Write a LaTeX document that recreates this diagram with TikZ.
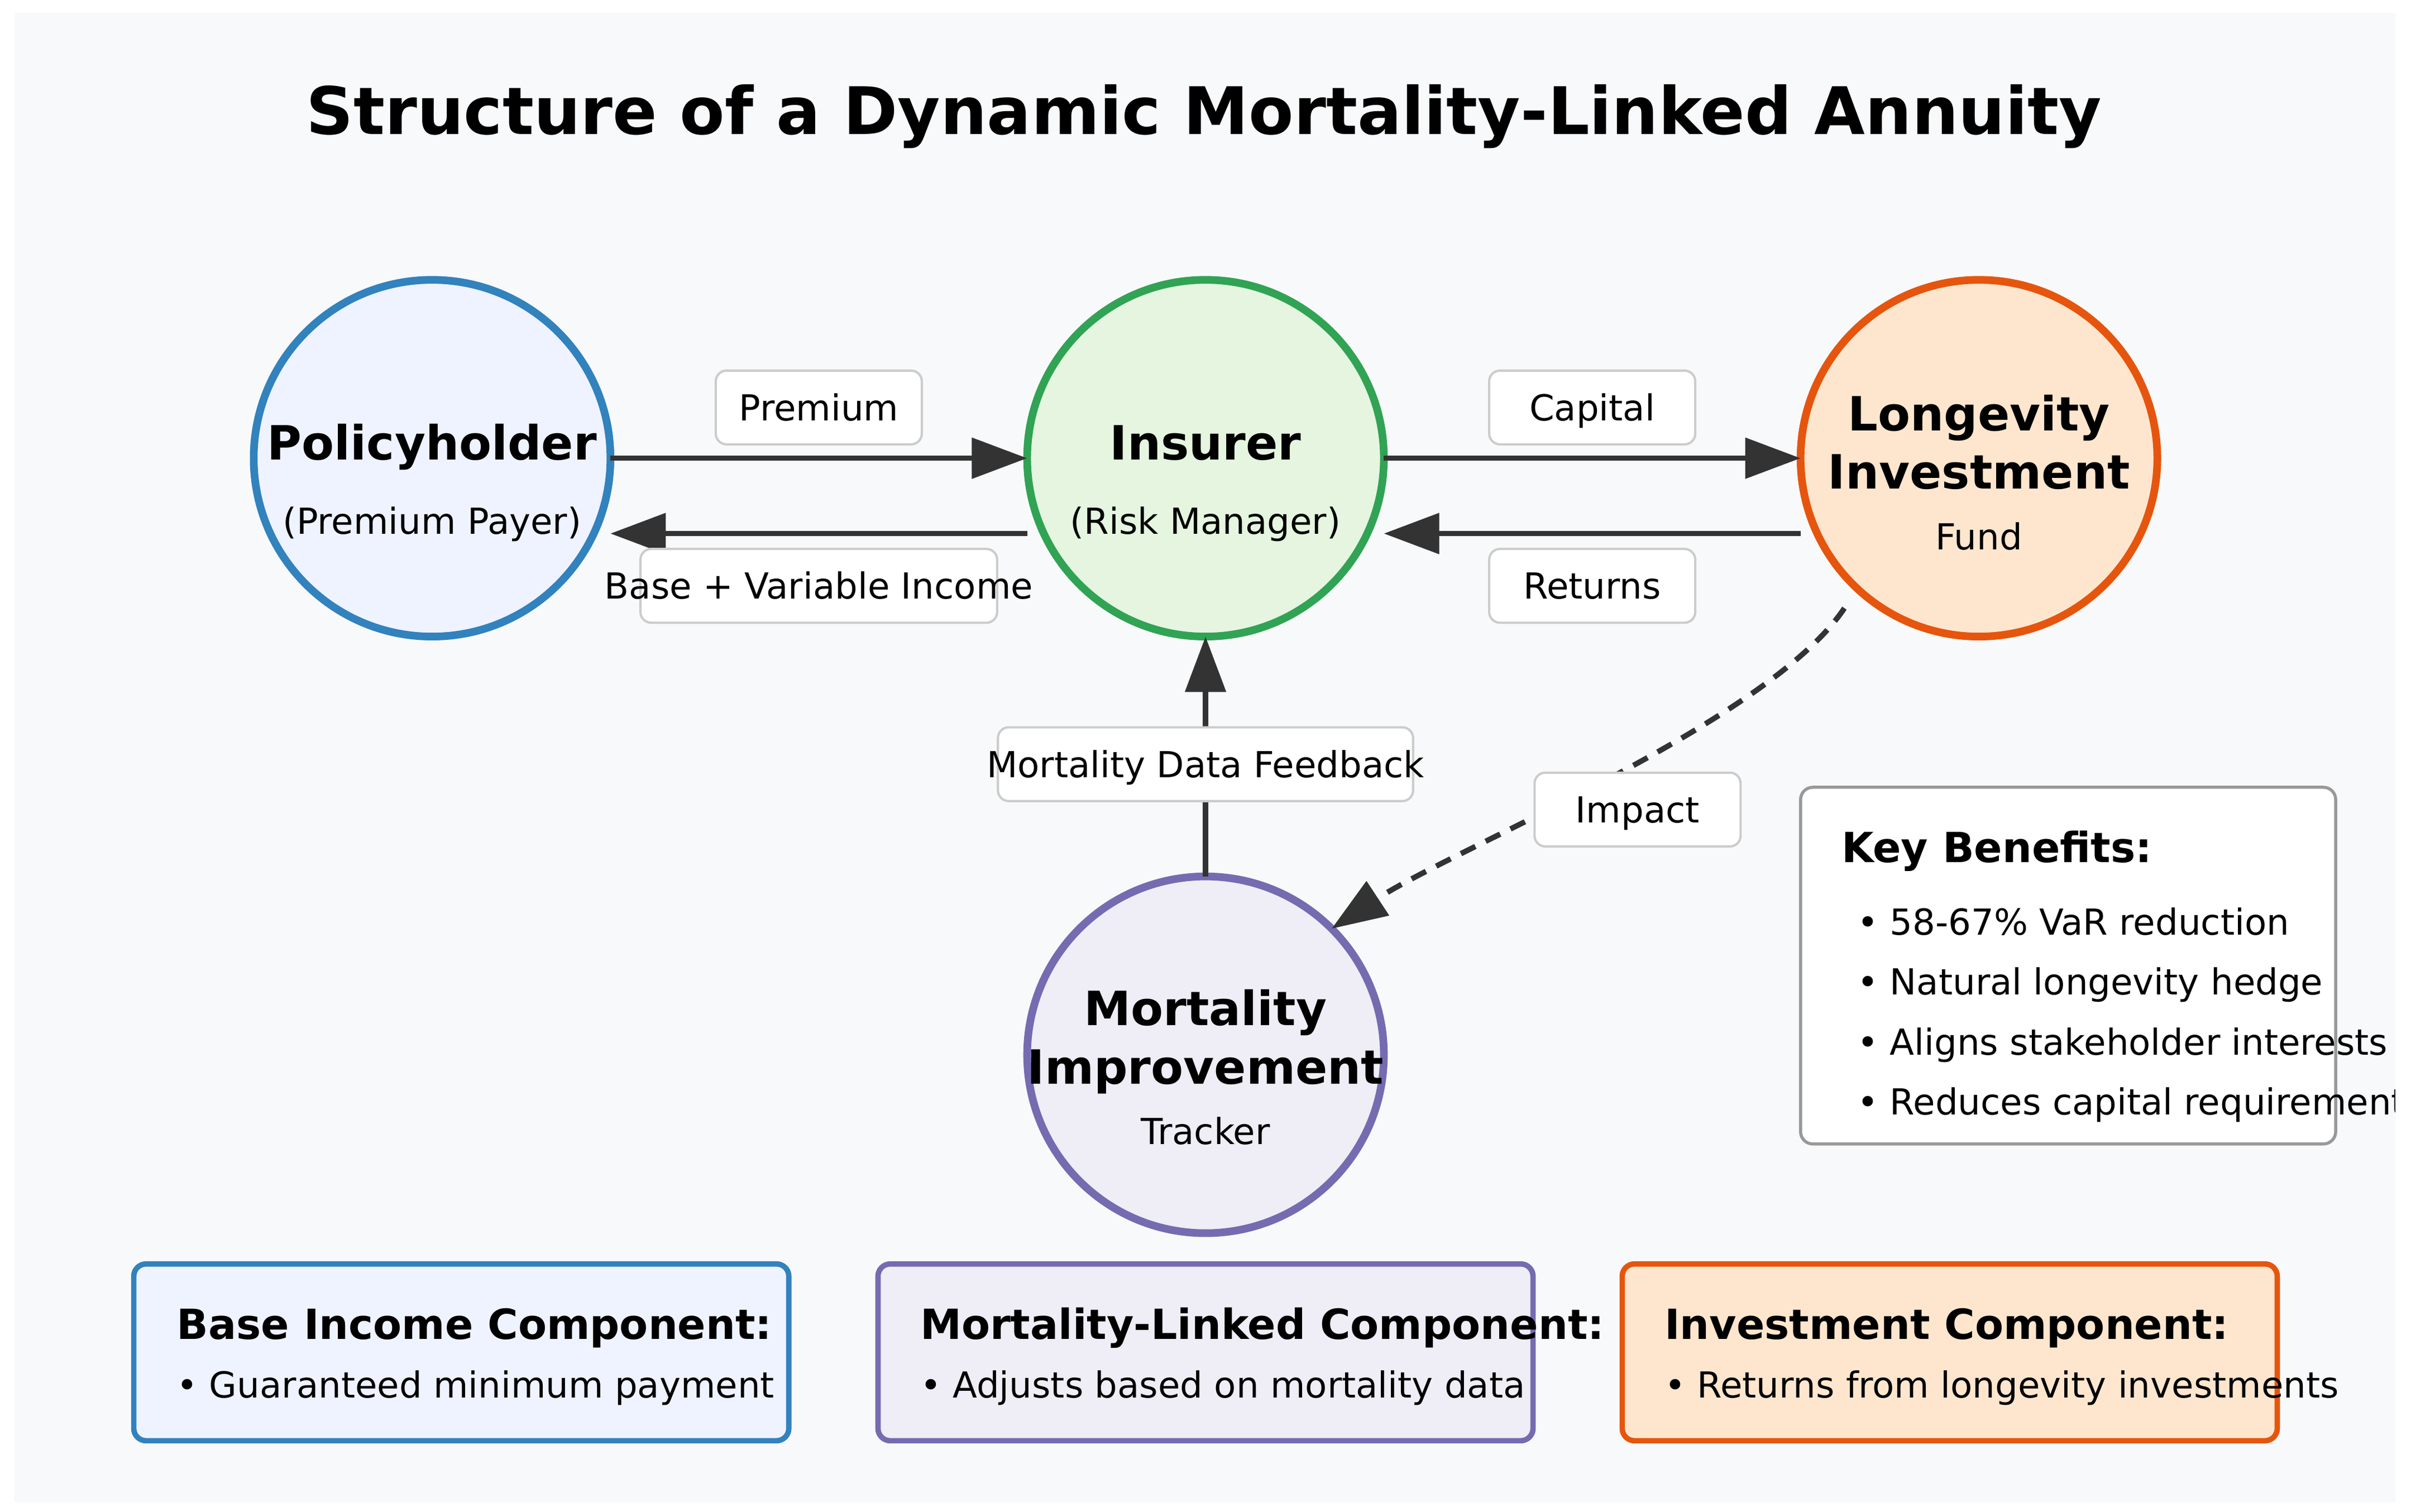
\documentclass[tikz,border=0pt]{standalone}
\usepackage{fontspec}
\setmainfont{DejaVu Sans}
\usepackage{tikz}
\usetikzlibrary{positioning}
\usetikzlibrary{arrows.meta}
\usetikzlibrary{calc}

\definecolor{bgcol}{HTML}{F8F9FA}
\definecolor{polline}{HTML}{3182BD}
\definecolor{polfill}{HTML}{EFF3FF}
\definecolor{insline}{HTML}{31A354}
\definecolor{insfill}{HTML}{E5F5E0}
\definecolor{lonline}{HTML}{E6550D}
\definecolor{lonfill}{HTML}{FEE6CE}
\definecolor{morline}{HTML}{756BB1}
\definecolor{morfill}{HTML}{EFEDF5}
\definecolor{arrowcol}{HTML}{333333}
\definecolor{lblline}{HTML}{CCCCCC}
\definecolor{keyline}{HTML}{999999}

\newcommand{\regfont}{\fontsize{23.3}{27}\selectfont}
\newcommand{\headfont}{\fontsize{30.7}{36}\selectfont\bfseries}
\newcommand{\boxfont}{\fontsize{27}{32}\selectfont\bfseries}
\newcommand{\titlefont}{\fontsize{42.6}{50}\selectfont\bfseries}

\begin{document}
\begin{tikzpicture}[ x = 1pt, y = -1pt
                   , >={Triangle[length=36pt, width=26pt]}
                   , every node/.style = { inner sep = 0pt
                                         , outer sep = 0pt }
                   ]
  \useasboundingbox (0,0) rectangle (1568,983.3);
  \fill[bgcol] (9.4,8.4) rectangle (1557.8,977);

  \begin{scope}
  \clip (9.4,8.4) rectangle (1557.8,977);

  %%
  %% Nodes
  %%
  \tikzset{ party/.style={circle, minimum size=232pt, line width=5pt}
          , polcirc/.style={party, draw=polline, fill=polfill}
          , inscirc/.style={party, draw=insline, fill=insfill}
          , loncirc/.style={party, draw=lonline, fill=lonfill}
          , morcirc/.style={party, draw=morline, fill=morfill}
          , head/.style={anchor=base, font=\headfont}
          , sub/.style={anchor=base, font=\regfont}
          , lbl/.style={ rectangle, rounded corners=7pt, draw=lblline
                       , line width=1.5pt, fill=white
                       , minimum width=134pt, minimum height=48pt
                       , font=\regfont, text height=17pt, text depth=0pt}
          , keybox/.style={ rectangle, rounded corners=8pt, draw=keyline
                          , line width=2pt, fill=white
                          , minimum width=348pt, minimum height=232pt}
          , part/.style={ rectangle, rounded corners=8pt, line width=3.5pt
                        , minimum width=426pt, minimum height=115pt}
          , parthead/.style={anchor=base west, font=\boxfont}
          , partitem/.style={anchor=base west, font=\regfont}
          }

  \node (title) [anchor=base, font=\titlefont] at (783,87.5)
        {Structure of a Dynamic Mortality-Linked Annuity};

  \node (pol) [polcirc] at (281,298) {};
  \node (ins) [inscirc, right = 271pt of pol] {};
  \node (lon) [loncirc, right = 271pt of ins] {};
  \node (mort) [morcirc, below = 156pt of ins] {};

  \node (polname) [head] at ($(pol)+(0,1)$) {Policyholder};
  \node (polrole) [sub] at ($(pol)+(0,49.4)$) {(Premium Payer)};
  \node (insname) [head] at ($(ins)+(0,1)$) {Insurer};
  \node (insrole) [sub] at ($(ins)+(0,49.4)$) {(Risk Manager)};
  \node (lonname) [head] at ($(lon)+(0,-18)$) {Longevity};
  \node (lonname2) [head] at ($(lon)+(0,20)$) {Investment};
  \node (lonrole) [sub] at ($(lon)+(0,59.4)$) {Fund};
  \node (morname) [head] at ($(mort)+(0,-19)$) {Mortality};
  \node (morname2) [head] at ($(mort)+(0,19)$) {Improvement};
  \node (morrole) [sub] at ($(mort)+(0,58.4)$) {Tracker};

  % Key benefits panel.
  \node (key) [keybox] at (1345,628) {};
  \node (keyhead) [parthead] at ($(key.north west)+(26.6,49)$) {Key Benefits:};
  \foreach \benefit [count=\i from 0] in { 58-67\% VaR reduction
                                         , Natural longevity hedge
                                         , Aligns stakeholder interests
                                         , Reduces capital requirements }
    \node (key\i) [partitem] at ($(key.north west)+(37,{96+39*\i})$)
          {• \benefit};

  % Component boxes.
  \node (pbase) [part, draw=polline, fill=polfill] at (300,879.5) {};
  \node (pmort) [part, draw=morline, fill=morfill, right = 58pt of pbase] {};
  \node (pinv) [part, draw=lonline, fill=lonfill, right = 58pt of pmort] {};

  \node (pbasehead) [parthead] at ($(pbase.west)+(28,-8.5)$) {Base Income Component:};
  \node (pbaseitem) [partitem] at ($(pbase.west)+(28,29.5)$) {• Guaranteed minimum payment};
  \node (pmorthead) [parthead] at ($(pmort.west)+(27.5,-8.5)$) {Mortality-Linked Component:};
  \node (pmortitem) [partitem] at ($(pmort.west)+(27.5,29.5)$) {• Adjusts based on mortality data};
  \node (pinvhead) [parthead] at ($(pinv.west)+(27.5,-8.5)$) {Investment Component:};
  \node (pinvitem) [partitem] at ($(pinv.west)+(27.5,29.5)$) {• Returns from longevity investments};

  \tikzset{ flow/.style={->, draw=arrowcol, line width=3.5pt}
          , impact/.style={flow, dash pattern=on 10.5pt off 7.5pt}
          }
  %%
  %% Relationship between nodes (arrows)
  %%
  % Horizontal lines.
  \draw[flow] (pol.east) -- node (lprem) [lbl, yshift=33pt] {Premium}
              (ins.west);
  \draw[flow] ($(ins.west)+(0,49)$) -- node (lbase) [lbl, minimum width=232pt, yshift=-34pt]
              {\makebox[0pt]{Base + Variable Income}}
              ($(pol.east)+(0,49)$);
  \draw[flow] (ins.east) -- node (lcap) [lbl, yshift=33pt] {Capital}
              (lon.west);
  \draw[flow] ($(lon.west)+(0,49)$) -- node (lret) [lbl, yshift=-34pt] {Returns}
              ($(ins.east)+(0,49)$);
  % Vertical line.
  \draw[flow] (mort.north) -- node (lfeed) [lbl, minimum width=270pt, pos=0.468]
              {\makebox[0pt]{Mortality Data Feedback}}
              (ins.south);
  % Dashed curve.
  \coordinate (impstart) at ($(lon)+(-87.5,97.5)$);
  \draw[impact] (impstart) .. controls (1150,470) and (945,552) .. (mort.45);
  \node (limp) [lbl] at (1065,526.5) {Impact};
  \end{scope}
\end{tikzpicture}
\end{document}
